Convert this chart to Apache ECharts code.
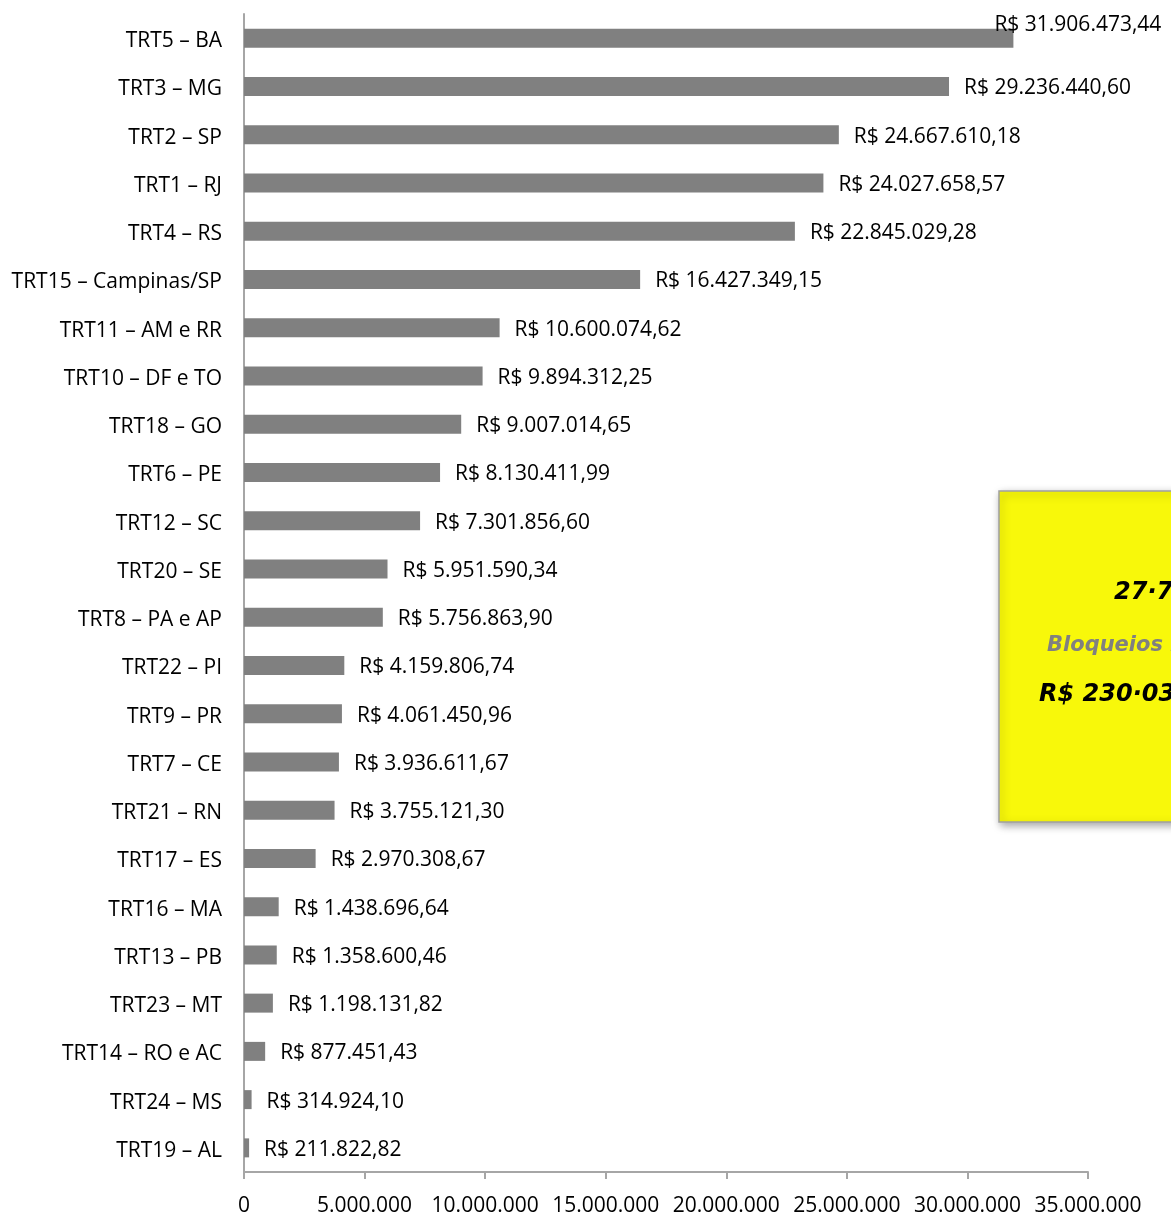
<!DOCTYPE html>
<html>
<head>
<meta charset="utf-8">
<script src="https://cdn.jsdelivr.net/npm/echarts@6/dist/echarts.min.js"></script>
<style>
  html, body { margin: 0; padding: 0; background: #fff; }
  #chart { width: 1171px; height: 1217px; }
</style>
</head>
<body>
<div id="chart"></div>
<script>
const categories = [
  'TRT5 – BA', 'TRT3 – MG', 'TRT2 – SP', 'TRT1 – RJ', 'TRT4 – RS',
  'TRT15 – Campinas/SP', 'TRT11 – AM e RR', 'TRT10 – DF e TO', 'TRT18 – GO',
  'TRT6 – PE', 'TRT12 – SC', 'TRT20 – SE', 'TRT8 – PA e AP', 'TRT22 – PI',
  'TRT9 – PR', 'TRT7 – CE', 'TRT21 – RN', 'TRT17 – ES', 'TRT16 – MA',
  'TRT13 – PB', 'TRT23 – MT', 'TRT14 – RO e AC', 'TRT24 – MS', 'TRT19 – AL'
]
const values = [
  31906473.44, 29236440.60, 24667610.18, 24027658.57, 22845029.28,
  16427349.15, 10600074.62, 9894312.25, 9007014.65,
  8130411.99, 7301856.60, 5951590.34, 5756863.90, 4159806.74,
  4061450.96, 3936611.67, 3755121.30, 2970308.67, 1438696.64,
  1358600.46, 1198131.82, 877451.43, 314924.10, 211822.82
]
const boxLines = ['27·772 ordens', 'Bloqueios BacenJud', 'R$ 230·035.000,00']

const font = 'Open Sans'

// 1234567.8 -> 1.234.567,80
function brl(v, decimals) {
    const parts = v.toFixed(decimals).split('.')
    const int = parts[0].replace(/\B(?=(\d{3})+(?!\d))/g, '.')
    return parts[1] ? int + ',' + parts[1] : int
}

const chart = echarts.init(document.getElementById('chart'))

const option = {
    animation: false,
    grid: { left: 244, right: 83, top: 14, bottom: 43, containLabel: false },
    xAxis: {
        type: 'value',
        min: 0,
        max: 35000000,
        interval: 5000000,
        axisLine: { show: true, lineStyle: { color: '#a6a6a6', width: 2 } },
        axisTick: { show: true, length: 7, lineStyle: { color: '#a6a6a6', width: 2 } },
        splitLine: { show: false },
        axisLabel: {
            color: '#000',
            fontFamily: font,
            fontSize: 21,
            margin: 24,
            formatter: v => brl(v, 0)
        }
    },
    yAxis: {
        type: 'category',
        data: categories,
        inverse: true,
        axisLine: { show: true, lineStyle: { color: '#a6a6a6', width: 2 } },
        axisTick: { show: false },
        axisLabel: {
            margin: 22,
            formatter: v => '{c|' + v + '}',
            rich: {
                c: { color: '#000', fontFamily: font, fontSize: 21, padding: [6, 0, 0, 0] }
            }
        }
    },
    series: [{
        type: 'bar',
        data: values.map((v, i) => i === 0 ? {
            value: v,
            label: { position: 'right', offset: [-19, -13], distance: 0 }
        } : v),
        barWidth: 19,
        itemStyle: { color: '#808080' },
        label: {
            show: true,
            position: 'right',
            distance: 15,
            offset: [0, 2],
            color: '#000',
            fontFamily: font,
            fontSize: 21,
            formatter: p => 'R$ ' + brl(p.value, 2)
        }
    }],
    graphic: [
        {
            type: 'rect',
            shape: { x: 999, y: 491, width: 300, height: 331 },
            style: {
                fill: '#f8f80a',
                stroke: '#a0a0a0',
                lineWidth: 1.5,
                shadowBlur: 8,
                shadowColor: 'rgba(0,0,0,0.35)',
                shadowOffsetX: 2,
                shadowOffsetY: 3
            }
        },
        {
            type: 'text', left: 1114, top: 581,
            style: { text: boxLines[0], font: 'italic bold 24px "DejaVu Sans"', fill: '#000' }
        },
        {
            type: 'text', left: 1047, top: 635,
            style: { text: boxLines[1], font: 'italic bold 21px "DejaVu Sans"', fill: '#808080' }
        },
        {
            type: 'text', left: 1039, top: 683,
            style: { text: boxLines[2], font: 'italic bold 24px "DejaVu Sans"', fill: '#000' }
        }
    ]
}

chart.setOption(option)
</script>
</body>
</html>
